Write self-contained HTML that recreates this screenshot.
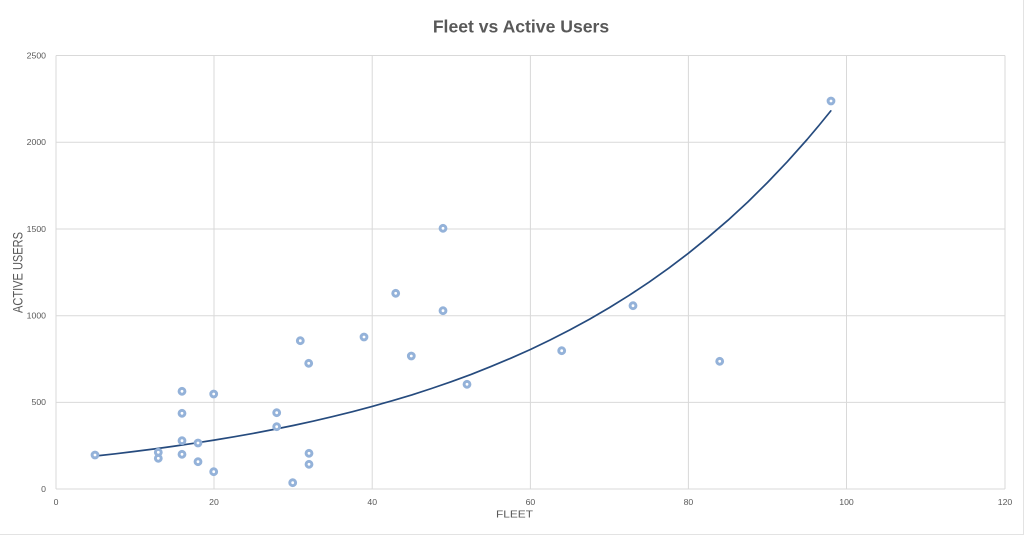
<!DOCTYPE html>
<html>
<head>
<meta charset="utf-8">
<style>
html,body{margin:0;padding:0;background:#fff;}
svg{display:block;}
text{font-family:"Liberation Sans",Arial,sans-serif;fill:#595959;}
</style>
</head>
<body>
<svg width="1024" height="535" viewBox="0 0 1024 535" xmlns="http://www.w3.org/2000/svg">
<rect x="0" y="0" width="1024" height="535" fill="#fff"/>
<!-- outer chart border -->
<line x1="1023.5" y1="0" x2="1023.5" y2="535" stroke="#e3e3e3" stroke-width="1"/>
<line x1="0" y1="534.5" x2="1024" y2="534.5" stroke="#e3e3e3" stroke-width="1"/>

<!-- title -->
<text x="521" y="32.3" font-size="17.6" font-weight="bold" text-anchor="middle">Fleet vs Active Users</text>

<!-- gridlines -->
<g stroke="#d9d9d9" stroke-width="1">
<line x1="56" y1="55.5" x2="1005" y2="55.5"/>
<line x1="56" y1="142.3" x2="1005" y2="142.3"/>
<line x1="56" y1="229" x2="1005" y2="229"/>
<line x1="56" y1="315.7" x2="1005" y2="315.7"/>
<line x1="56" y1="402.4" x2="1005" y2="402.4"/>
<line x1="56" y1="489" x2="1005" y2="489"/>
<line x1="56" y1="55.5" x2="56" y2="489"/>
<line x1="214" y1="55.5" x2="214" y2="489"/>
<line x1="372.2" y1="55.5" x2="372.2" y2="489"/>
<line x1="530.4" y1="55.5" x2="530.4" y2="489"/>
<line x1="688.4" y1="55.5" x2="688.4" y2="489"/>
<line x1="846.5" y1="55.5" x2="846.5" y2="489"/>
<line x1="1005" y1="55.5" x2="1005" y2="489"/>
</g>

<!-- y tick labels -->
<g font-size="8.7" text-anchor="end">
<text x="46" y="58.3">2500</text>
<text x="46" y="145.1">2000</text>
<text x="46" y="231.8">1500</text>
<text x="46" y="318.5">1000</text>
<text x="46" y="405.2">500</text>
<text x="46" y="491.8">0</text>
</g>
<!-- x tick labels -->
<g font-size="8.7" text-anchor="middle">
<text x="56" y="505">0</text>
<text x="214" y="505">20</text>
<text x="372.2" y="505">40</text>
<text x="530.4" y="505">60</text>
<text x="688.4" y="505">80</text>
<text x="846.5" y="505">100</text>
<text x="1005" y="505">120</text>
</g>

<!-- axis titles -->
<text x="496" y="517.7" font-size="10.3" textLength="37" lengthAdjust="spacingAndGlyphs">FLEET</text>
<text transform="translate(22.6,313) rotate(-90)" x="0" y="0" font-size="13.5" textLength="81" lengthAdjust="spacingAndGlyphs">ACTIVE USERS</text>

<!-- trendline -->
<polyline fill="none" stroke="#264b7e" stroke-width="1.7" stroke-linejoin="round" stroke-linecap="round"
points="95.5,456.0 115.3,453.8 135.1,451.4 154.8,448.9 174.6,446.1 194.4,443.2 214.1,440.1 233.9,436.8 253.7,433.3 273.4,429.5 293.2,425.5 313.0,421.2 332.7,416.6 352.5,411.7 372.2,406.4 392.0,400.8 411.8,394.9 431.5,388.5 451.3,381.7 471.1,374.4 490.8,366.6 510.6,358.3 530.4,349.5 550.1,340.0 569.9,329.9 589.7,319.1 609.4,307.6 629.2,295.3 649.0,282.2 668.7,268.2 688.5,253.2 708.2,237.2 728.0,220.2 747.8,202.0 767.5,182.5 787.3,161.7 807.1,139.5 818.9,125.5 830.8,110.9"/>

<!-- data points -->
<g fill="#fff" stroke="#94b2d9" stroke-width="3">
<circle cx="95" cy="455" r="2.9"/>
<circle cx="158.3" cy="452.3" r="2.9"/>
<circle cx="158.3" cy="458.3" r="2.9"/>
<circle cx="182" cy="391.3" r="2.9"/>
<circle cx="182" cy="413.3" r="2.9"/>
<circle cx="182" cy="440.7" r="2.9"/>
<circle cx="182" cy="454.3" r="2.9"/>
<circle cx="198" cy="443" r="2.9"/>
<circle cx="198" cy="461.7" r="2.9"/>
<circle cx="213.7" cy="394" r="2.9"/>
<circle cx="213.7" cy="471.7" r="2.9"/>
<circle cx="276.7" cy="412.7" r="2.9"/>
<circle cx="276.7" cy="426.7" r="2.9"/>
<circle cx="292.7" cy="482.7" r="2.9"/>
<circle cx="300.3" cy="340.7" r="2.9"/>
<circle cx="308.7" cy="363.3" r="2.9"/>
<circle cx="309" cy="453.3" r="2.9"/>
<circle cx="309" cy="464.3" r="2.9"/>
<circle cx="364" cy="337" r="2.9"/>
<circle cx="395.7" cy="293.3" r="2.9"/>
<circle cx="411.3" cy="356" r="2.9"/>
<circle cx="443" cy="228.3" r="2.9"/>
<circle cx="443" cy="310.7" r="2.9"/>
<circle cx="467" cy="384.3" r="2.9"/>
<circle cx="561.7" cy="350.7" r="2.9"/>
<circle cx="633" cy="305.7" r="2.9"/>
<circle cx="719.7" cy="361.3" r="2.9"/>
<circle cx="831" cy="101" r="2.9"/>
</g>
</svg>
</body>
</html>
